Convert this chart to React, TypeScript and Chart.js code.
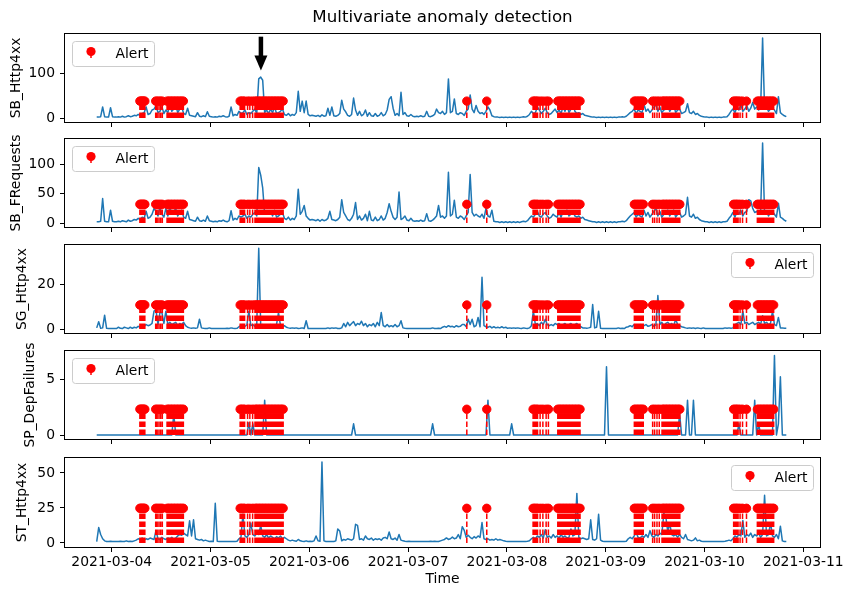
import React, { useEffect, useRef } from 'react';
import { Chart, registerables } from 'chart.js';

Chart.register(...registerables);

// ---------------- data ----------------
// x values are days relative to 2021-03-04 00:00
const SERIES_START_DAY = -0.152;
const SERIES_STEP_DAY = 0.02;

const X_TICKS = [0, 1, 2, 3, 4, 5, 6, 7];
const X_TICK_LABELS = ['2021-03-04', '2021-03-05', '2021-03-06', '2021-03-07', '2021-03-08', '2021-03-09', '2021-03-10', '2021-03-11'];

const SB_HTTP4XX = [
  2, 2, 3, 25, 3, 2, 2, 23, 3, 2,
  2, 3, 2, 4, 2, 3, 5, 3, 4, 6,
  5, 8, 6, 10, 12, 25, 8, 10, 18, 20,
  28, 12, 15, 25, 10, 18, 12, 30, 15, 20,
  28, 12, 20, 25, 10, 8, 22, 6, 5, 4,
  3, 12, 4, 3, 5, 3, 14, 4, 3, 2,
  3, 2, 4, 3, 5, 3, 2, 4, 25, 5,
  8, 6, 15, 10, 12, 18, 8, 12, 10, 15,
  20, 10, 88, 92, 85, 12, 18, 10, 20, 12,
  25, 10, 12, 15, 20, 8, 6, 10, 5, 8,
  6, 12, 60, 15, 38, 12, 38, 8, 5, 6,
  5, 4, 6, 3, 7, 4, 5, 22, 6, 25,
  5, 4, 6, 10, 40, 20, 14, 6, 4, 8,
  45, 18, 6, 15, 5, 8, 18, 4, 12, 5,
  4, 10, 4, 6, 12, 5, 8, 18, 42, 48,
  22, 6, 10, 5, 58, 8, 12, 5, 4, 8,
  4, 3, 4, 3, 5, 3, 4, 15, 4, 3,
  5, 8, 20, 12, 10, 15, 8, 12, 88, 12,
  15, 43, 10, 8, 12, 10, 6, 15, 20, 52,
  20, 12, 28, 15, 10, 12, 8, 15, 25, 18,
  5, 3, 2, 2, 1, 2, 1, 2, 1, 2,
  1, 2, 1, 2, 1, 2, 3, 2, 4, 8,
  15, 10, 12, 25, 18, 10, 15, 22, 12, 8,
  10, 15, 20, 12, 18, 10, 25, 15, 30, 12,
  20, 35, 15, 10, 12, 8, 10, 6, 5, 4,
  3, 2, 2, 1, 2, 1, 2, 1, 2, 1,
  2, 1, 2, 1, 2, 2, 3, 2, 4, 8,
  12, 15, 20, 10, 18, 15, 12, 30, 15, 20,
  12, 18, 25, 30, 15, 25, 12, 18, 20, 28,
  15, 22, 30, 12, 18, 20, 10, 12, 15, 32,
  12, 10, 15, 8, 10, 6, 4, 3, 2, 2,
  1, 2, 1, 2, 1, 2, 1, 2, 2, 3,
  8, 15, 20, 12, 25, 18, 30, 15, 20, 28,
  15, 22, 35, 20, 25, 18, 22, 180, 20, 25,
  15, 20, 22, 18, 10, 48, 12, 8, 5, 3,
];

const SB_FREQUESTS = [
  2, 2, 3, 42, 3, 2, 2, 22, 3, 2,
  2, 3, 2, 4, 3, 2, 5, 3, 4, 6,
  5, 8, 6, 10, 8, 20, 8, 10, 15, 25,
  20, 12, 28, 15, 10, 25, 12, 28, 15, 20,
  25, 12, 18, 22, 10, 8, 20, 6, 5, 4,
  3, 10, 4, 3, 5, 3, 12, 4, 3, 2,
  3, 2, 4, 3, 5, 3, 2, 4, 21, 5,
  8, 6, 12, 10, 12, 15, 8, 12, 10, 15,
  18, 12, 95, 82, 60, 15, 18, 15, 20, 12,
  22, 10, 12, 15, 18, 8, 6, 10, 5, 8,
  6, 12, 58, 15, 20, 30, 12, 8, 5, 6,
  5, 4, 6, 3, 6, 4, 5, 8, 20, 6,
  5, 4, 6, 10, 40, 18, 12, 6, 4, 8,
  15, 35, 6, 12, 5, 8, 15, 4, 20, 5,
  4, 10, 4, 6, 12, 5, 8, 18, 33, 20,
  10, 6, 10, 53, 6, 8, 12, 5, 4, 8,
  4, 3, 4, 3, 5, 3, 4, 16, 4, 3,
  5, 8, 12, 30, 10, 12, 8, 12, 87, 12,
  15, 39, 10, 8, 12, 10, 6, 12, 18, 83,
  18, 12, 15, 12, 10, 15, 8, 25, 12, 10,
  22, 3, 2, 2, 1, 2, 1, 2, 1, 2,
  1, 2, 1, 2, 1, 2, 3, 2, 4, 8,
  12, 10, 15, 20, 12, 10, 15, 18, 12, 8,
  10, 15, 12, 10, 18, 10, 20, 15, 22, 12,
  15, 20, 12, 10, 12, 8, 10, 6, 5, 4,
  3, 2, 2, 1, 2, 1, 2, 1, 2, 1,
  2, 1, 2, 1, 2, 2, 3, 2, 4, 8,
  12, 15, 18, 10, 15, 12, 10, 22, 12, 18,
  10, 15, 20, 25, 12, 20, 10, 15, 18, 22,
  12, 18, 22, 10, 15, 18, 10, 12, 15, 44,
  12, 10, 15, 8, 10, 6, 4, 3, 2, 2,
  1, 2, 1, 2, 1, 2, 1, 2, 2, 3,
  8, 12, 18, 10, 20, 15, 22, 12, 18, 20,
  40, 38, 25, 18, 20, 15, 18, 137, 15, 20,
  12, 18, 20, 15, 10, 34, 10, 8, 5, 3,
];

const SG_HTTP4XX = [
  0.5, 3.3, 0.3, 0.5, 6.2, 0.3, 0.2, 0.2, 0.2, 0.2,
  0.2, 0.8, 0.3, 0.2, 0.8, 0.5, 0.2, 0.8, 0.3, 0.8,
  0.5, 1.2, 0.8, 1.8, 1.2, 2.0, 1.5, 1.8, 2.5, 8.0,
  8.6, 2.0, 7.4, 7.4, 2.5, 8.0, 2.0, 3.0, 2.0, 2.5,
  3.0, 1.5, 2.5, 2.0, 3.0, 1.5, 0.8, 0.5, 0.3, 0.5,
  0.3, 0.5, 4.4, 0.5, 0.3, 0.2, 0.2, 0.5, 0.2, 0.2,
  0.2, 0.2, 0.2, 0.2, 0.2, 0.2, 0.3, 0.2, 0.5, 0.3,
  0.2, 0.3, 1.0, 1.5, 2.0, 1.2, 1.8, 8.0, 1.5, 2.0,
  1.2, 2.0, 36.3, 1.5, 2.0, 1.2, 1.8, 1.0, 2.0, 1.5,
  1.2, 2.0, 7.4, 1.5, 1.0, 1.5, 0.8, 0.5, 0.3, 0.5,
  0.3, 0.5, 0.2, 0.3, 0.5, 0.2, 3.7, 0.2, 0.2, 0.2,
  0.2, 0.2, 0.2, 0.2, 0.2, 0.2, 0.2, 0.5, 0.2, 0.5,
  0.3, 0.5, 0.2, 0.2, 0.5, 2.5, 1.0, 3.0, 1.5, 2.5,
  3.3, 1.5, 2.5, 2.0, 3.5, 1.5, 2.5, 1.0, 2.0, 1.5,
  2.5, 1.0, 3.0, 1.5, 7.4, 1.5, 1.0, 2.0, 1.0, 1.5,
  1.0, 2.0, 1.0, 1.5, 3.7, 0.5, 0.3, 0.2, 0.2, 0.2,
  0.2, 0.2, 0.2, 0.2, 0.2, 0.2, 0.2, 0.2, 0.2, 0.2,
  0.5, 0.2, 0.2, 0.3, 0.2, 0.8, 1.2, 0.8, 1.5, 1.0,
  1.2, 0.8, 1.5, 1.0, 1.2, 2.0, 2.0, 1.0, 4.4, 2.0,
  4.4, 1.0, 1.5, 5.2, 1.0, 23.3, 1.5, 1.0, 0.8, 1.2,
  0.5, 1.0, 0.5, 0.8, 0.5, 1.0, 0.5, 0.8, 0.3, 0.5,
  0.3, 0.5, 0.3, 0.5, 0.3, 0.2, 0.5, 0.3, 0.2, 0.5,
  1.5, 8.0, 2.0, 2.5, 1.5, 3.0, 2.0, 4.4, 2.0, 1.5,
  2.0, 1.5, 2.5, 2.0, 2.5, 1.5, 2.0, 2.5, 1.5, 2.0,
  2.5, 1.5, 2.0, 2.5, 1.5, 1.0, 0.5, 0.5, 0.3, 0.5,
  0.8, 11.0, 0.5, 0.8, 8.0, 0.3, 0.2, 0.2, 0.2, 0.2,
  0.2, 0.2, 0.2, 0.2, 0.5, 0.2, 0.3, 0.2, 0.8, 1.0,
  1.5, 1.0, 2.0, 1.2, 1.5, 2.0, 1.0, 1.5, 2.0, 1.2,
  1.5, 2.0, 1.2, 1.8, 15.1, 2.0, 3.0, 1.5, 2.5, 3.0,
  2.0, 2.5, 1.5, 4.4, 2.0, 1.5, 1.0, 0.8, 0.5, 0.3,
  0.5, 0.3, 0.5, 0.2, 0.5, 0.3, 0.2, 0.5, 0.2, 0.2,
  0.2, 0.2, 0.2, 0.2, 0.2, 0.2, 0.2, 0.2, 0.5, 0.3,
  0.5, 0.3, 0.5, 2.0, 2.5, 3.0, 2.0, 8.0, 2.5, 3.0,
  2.0, 2.5, 3.0, 2.0, 2.5, 3.0, 2.0, 6.0, 2.5, 3.0,
  2.0, 2.5, 8.0, 2.0, 1.5, 5.2, 0.5, 0.5, 0.3, 0.3,
];

const SP_DEPFAILURES = [
  0, 0, 0, 0, 0, 0, 0, 0, 0, 0,
  0, 0, 0, 0, 0, 0, 0, 0, 0, 0,
  0, 0, 0, 0, 0, 0, 0, 0, 0, 0,
  0, 0, 0, 0, 0, 0, 0, 0, 0, 1.86,
  0, 0, 0, 0, 0, 0, 0, 0, 0, 0,
  0, 0, 0, 0, 0, 0, 0, 0, 0, 0,
  0, 0, 0, 0, 0, 0, 0, 0, 0, 0,
  0, 0, 0, 0, 0, 0, 0, 1.1, 0, 1.0,
  0, 0, 0, 0, 0, 3.1, 0, 0, 0, 0,
  0, 0, 0, 0, 0, 0, 0, 0, 0, 0,
  0, 0, 0, 0, 0, 0, 0, 0, 0, 0,
  0, 0, 0, 0, 0, 0, 0, 0, 0, 0,
  0, 0, 0, 0, 0, 0, 0, 0, 0, 0,
  1.0, 0, 0, 0, 0, 0, 0, 0, 0, 0,
  0, 0, 0, 0, 0, 0, 0, 0, 0, 0,
  0, 0, 0, 0, 0, 0, 0, 0, 0, 0,
  0, 0, 0, 0, 0, 0, 0, 0, 0, 0,
  1.0, 0, 0, 0, 0, 0, 0, 0, 0, 0,
  0, 0, 0, 0, 0, 0, 0, 0, 0, 0,
  0, 0, 0, 0, 0, 0, 0, 0, 3.1, 0,
  0, 0, 0, 0, 0, 0, 0, 0, 0, 0,
  1.0, 0, 0, 0, 0, 0, 0, 0, 0, 0,
  0, 0, 0, 0, 0, 0, 0, 0, 0, 0,
  0, 0, 0, 0, 0, 0, 0, 0, 0, 0,
  0, 0, 0, 0, 0, 0, 0, 0, 0, 0,
  0, 0, 0, 0, 0, 0, 0, 0, 6.1, 0,
  0, 0, 0, 0, 0, 0, 0, 0, 0, 0,
  0, 0, 0, 0, 0, 0, 0, 0, 0, 0,
  0, 0, 0, 0, 0, 0, 0, 0, 0, 0,
  0, 0, 0, 0, 0, 1.9, 0, 0, 0, 3.1,
  0, 0, 3.1, 0, 0, 0, 0, 0, 0, 0,
  0, 0, 0, 0, 0, 0, 0, 0, 0, 0,
  0, 0, 0, 0, 0, 1.0, 0, 0, 0, 0,
  0, 0, 0, 3.1, 0, 1.0, 0, 0, 0, 0,
  0, 0, 0, 7.1, 0, 1.0, 5.2, 0, 0, 0,
];

const ST_HTTP4XX = [
  1, 11, 6, 3, 1.5, 1, 1, 1.2, 1, 1,
  1, 1, 1.2, 1, 1, 1.5, 1, 1.2, 1, 1.5,
  2, 3, 2.5, 3.5, 2, 3, 2.5, 3.5, 3, 2.5,
  8.8, 3, 2.5, 4, 3, 2.5, 3.5, 3, 4, 2.5,
  3.5, 5, 6, 5.5, 7, 6, 5, 15.8, 5, 16.5,
  3, 2.5, 2, 2.5, 1.5, 2, 1.5, 1, 1.2, 1,
  28.3, 1.2, 1, 1, 1, 1, 1, 1, 1, 1,
  1, 1.2, 3, 4, 20.5, 5, 4, 6, 14.2, 6,
  5, 7, 6, 12.5, 5, 4, 6, 3.5, 5, 4,
  3, 4.5, 3.5, 5, 3, 4, 3, 2, 1.5, 2,
  1.5, 1.2, 2.5, 1.5, 1.2, 1, 1.5, 1, 1.2, 1,
  1.5, 5, 1.5, 1.2, 57.8, 1.5, 1, 1, 1, 1,
  1, 1.5, 10, 8.5, 1.5, 2.5, 2, 3, 2.5, 2,
  3, 13.3, 12.5, 2.5, 3, 2, 5, 3, 2.5, 3.5,
  2, 3, 2.5, 3, 2, 3.5, 4, 3, 7.8, 3,
  2.5, 3.5, 2, 6, 2, 1.5, 1.2, 1, 1.2, 1,
  1, 1, 1, 1, 1, 1, 1, 1, 1, 1.2,
  1, 1.2, 1, 1, 1.5, 2, 2.5, 3.6, 2.5, 3,
  4.2, 3, 3.5, 6, 3, 11.6, 9, 4, 5.5, 4,
  3, 4.5, 3.5, 5, 4, 14.6, 3, 2.5, 3, 2,
  2.5, 2, 3, 2, 2.5, 2, 1.5, 1.2, 1, 1,
  1, 1, 1, 1, 1, 1, 1, 1, 1.2, 1.5,
  3, 4, 3, 5, 4, 6, 3.5, 9.5, 4, 5,
  3.5, 6, 4, 5, 3.5, 6, 4, 5, 3.5, 4,
  10, 5, 6, 35.4, 4, 3, 3.5, 3, 2.5, 3,
  16.5, 2.5, 2, 3, 20.5, 2, 1.2, 1, 1, 1,
  1, 1, 1, 1, 1, 1, 1, 1, 1.2, 3,
  4, 3, 5, 7.4, 4, 3.5, 5, 4, 6, 4,
  8.8, 5, 4, 6, 5, 7, 6, 21, 19, 8,
  14, 6, 5, 6, 4, 6, 4, 3, 6, 2.5,
  2, 1.5, 2, 3.6, 1.5, 2, 1.2, 1, 1, 1,
  1, 1, 1, 1, 1, 1, 1, 1, 1.2, 1.5,
  2, 1.5, 3, 5, 4, 6, 5, 16, 4, 6,
  5, 7, 4, 6, 5, 7, 4, 6, 34, 5,
  6, 14.5, 5, 4, 6, 3, 12, 1.5, 1, 1,
];

// alert timestamps (days relative to 2021-03-04 00:00)
const ALERT_DAYS = [
  0.285, 0.295, 0.305, 0.315, 0.325, 0.335,
  0.445, 0.46, 0.478, 0.495, 0.512, 0.56, 0.575, 0.59, 0.605, 0.62, 0.635, 0.65, 0.665, 0.68, 0.695, 0.71, 0.725,
  1.30, 1.315, 1.33, 1.345, 1.375, 1.398, 1.426, 1.45, 1.465, 1.48, 1.495, 1.51, 1.525, 1.54, 1.555, 1.57, 1.585,
  1.60, 1.615, 1.63, 1.645, 1.66, 1.675, 1.69, 1.705, 1.72, 1.735,
  3.594, 3.796,
  4.265, 4.28, 4.295, 4.31, 4.336, 4.364, 4.397, 4.42,
  4.515, 4.53, 4.545, 4.56, 4.575, 4.59, 4.605, 4.62, 4.635, 4.65, 4.665, 4.68, 4.695, 4.71, 4.725, 4.74,
  5.29, 5.305, 5.32, 5.335, 5.35, 5.365, 5.38,
  5.475, 5.495, 5.519, 5.542, 5.57, 5.585, 5.60, 5.615, 5.63, 5.645, 5.66, 5.675, 5.69, 5.705, 5.72, 5.735, 5.75,
  6.295, 6.31, 6.325, 6.34, 6.36, 6.385, 6.425,
  6.535, 6.55, 6.565, 6.58, 6.595, 6.61, 6.625, 6.64, 6.655, 6.67, 6.685, 6.70,
];

const PANEL_NAMES = ['SB_Http4xx', 'SB_FRequests', 'SG_Http4xx', 'SP_DepFailures', 'ST_Http4xx'];
const PANEL_VALUES = [SB_HTTP4XX, SB_FREQUESTS, SG_HTTP4XX, SP_DEPFAILURES, ST_HTTP4XX];
const ALERT_LEVELS = [38, 32, 10.8, 2.3, 24.75];
const Y_TICKS = [[0, 100], [0, 50, 100], [0, 20], [0, 5], [0, 25, 50]];
const ALERT_LABEL = 'Alert';
const TITLE = 'Multivariate anomaly detection';
const X_TITLE = 'Time';
// annotation arrow in the first panel (day, tip value, tail value)
const ARROW_DAY = 1.51;
const ARROW_TIP = 107;
const ARROW_TAIL = 183;

// ---------------- layout / style ----------------
const FONT = 'DejaVu Sans';
const FONT_SIZE = 13.9;
const W = 843;
const H = 589;
const PLOT_LEFT = 65;
const PLOT_RIGHT = 820;
const PANEL_TOP = [34, 139, 245, 351, 458];
const PANEL_BOTTOM = [122, 227, 333, 439, 547];
const Y_MIN = [-9, -6.85, -1.8, -0.357, -2.9];
const Y_MAX = [189, 143.85, 37.8, 7.5, 60.7];
const Y_TITLE_PAD = [8.3, 8.3, 13.8, 21.8, 13.8];
const LEGEND_SIDE = ['left', 'left', 'right', 'left', 'right'];
const X_MIN = -0.473;
const X_MAX = 7.169;
const CANVAS_PAD_TOP = 30;
const X_AXIS_H = 20;

function panelGeometry(p: number) {
  const isFirst = p === 0;
  const isLast = p === 4;
  const padTop = isFirst ? 0 : CANVAS_PAD_TOP;
  const xAxisH = isLast ? H - PANEL_BOTTOM[p] : X_AXIS_H;
  const top = isFirst ? 0 : PANEL_TOP[p] - CANVAS_PAD_TOP;
  const height = isFirst ? PANEL_BOTTOM[0] + xAxisH : PANEL_BOTTOM[p] - PANEL_TOP[p] + padTop + xAxisH;
  return { isFirst, isLast, padTop, xAxisH, top, height };
}

const framePlugin = {
  id: 'axesFrame',
  afterDatasetsDraw(chart: any) {
    const { ctx, chartArea: a } = chart;
    ctx.save();
    ctx.strokeStyle = '#000';
    ctx.lineWidth = 1;
    ctx.strokeRect(Math.round(a.left) - 0.5, Math.round(a.top) - 0.5, Math.round(a.right - a.left) + 1, Math.round(a.bottom - a.top) + 1);
    ctx.restore();
  },
};

const arrowPlugin = {
  id: 'arrowAnnotation',
  afterDatasetsDraw(chart: any) {
    const { ctx, scales } = chart;
    const x = scales.x.getPixelForValue(ARROW_DAY);
    const yTip = scales.y.getPixelForValue(ARROW_TIP);
    const yTail = scales.y.getPixelForValue(ARROW_TAIL);
    const headH = 15;
    const headW = 13;
    const shaftW = 4.5;
    ctx.save();
    ctx.fillStyle = '#000';
    ctx.fillRect(x - shaftW / 2, yTail, shaftW, yTip - headH - yTail + 1);
    ctx.beginPath();
    ctx.moveTo(x - headW / 2, yTip - headH);
    ctx.lineTo(x + headW / 2, yTip - headH);
    ctx.lineTo(x, yTip);
    ctx.closePath();
    ctx.fill();
    ctx.restore();
  },
};

function makeLegendPlugin(side: string) {
  return {
    id: 'alertLegend',
    afterDatasetsDraw(chart: any) {
      const { ctx, chartArea: a } = chart;
      const w = 82;
      const h = 25;
      const pad = 6.9;
      const x = Math.round(side === 'left' ? a.left + pad : a.right - pad - w) + 0.5;
      const y = Math.round(a.top + pad) + 0.5;
      const r = 3;
      ctx.save();
      ctx.beginPath();
      ctx.moveTo(x + r, y);
      ctx.lineTo(x + w - r, y);
      ctx.arcTo(x + w, y, x + w, y + r, r);
      ctx.lineTo(x + w, y + h - r);
      ctx.arcTo(x + w, y + h, x + w - r, y + h, r);
      ctx.lineTo(x + r, y + h);
      ctx.arcTo(x, y + h, x, y + h - r, r);
      ctx.lineTo(x, y + r);
      ctx.arcTo(x, y, x + r, y, r);
      ctx.closePath();
      ctx.fillStyle = 'rgba(255,255,255,0.8)';
      ctx.fill();
      ctx.strokeStyle = '#cccccc';
      ctx.lineWidth = 1;
      ctx.stroke();
      const mx = x + 18.5;
      const my = y + 10;
      ctx.strokeStyle = '#ff0000';
      ctx.lineWidth = 1.5;
      ctx.beginPath();
      ctx.moveTo(mx, my);
      ctx.lineTo(mx, y + 16.5);
      ctx.stroke();
      ctx.fillStyle = '#ff0000';
      ctx.beginPath();
      ctx.arc(mx, my, 4.6, 0, Math.PI * 2);
      ctx.fill();
      ctx.fillStyle = '#000';
      ctx.font = `${FONT_SIZE}px "${FONT}"`;
      ctx.textAlign = 'left';
      ctx.textBaseline = 'alphabetic';
      const label = chart.data.datasets[0].label;
      ctx.fillText(label, x + 43, y + 16.5);
      ctx.restore();
    },
  };
}

function buildChart(canvas: HTMLCanvasElement, p: number) {
  const g = panelGeometry(p);
  const values = PANEL_VALUES[p];
  const level = ALERT_LEVELS[p];
  const series = values.map((v, i) => ({ x: SERIES_START_DAY + i * SERIES_STEP_DAY, y: v }));
  const stems: any[] = [];
  ALERT_DAYS.forEach((t) => {
    stems.push({ x: t, y: 0 });
    stems.push({ x: t, y: level });
    stems.push({ x: t, y: null });
  });
  const markers = ALERT_DAYS.map((t) => ({ x: t, y: level }));
  const plugins: any[] = [framePlugin];
  if (g.isFirst) plugins.push(arrowPlugin);
  plugins.push(makeLegendPlugin(LEGEND_SIDE[p]));

  return new Chart(canvas, {
    type: 'line',
    data: {
      datasets: [
        {
          label: ALERT_LABEL,
          data: markers,
          showLine: false,
          pointRadius: 4.2,
          pointHoverRadius: 4.2,
          pointBackgroundColor: '#ff0000',
          pointBorderColor: '#ff0000',
          pointBorderWidth: 1,
        },
        {
          label: 'stems',
          data: stems,
          borderColor: '#ff0000',
          borderWidth: 1.5,
          borderDash: [5.55, 2.4],
          borderCapStyle: 'butt',
          pointRadius: 0,
          spanGaps: false,
          tension: 0,
        },
        {
          label: PANEL_NAMES[p],
          data: series,
          borderColor: '#1f77b4',
          borderWidth: 1.5,
          borderJoinStyle: 'round',
          pointRadius: 0,
          tension: 0,
          fill: false,
        },
      ],
    },
    options: {
      responsive: false,
      animation: false,
      events: [],
      layout: { padding: { left: 0, right: W - PLOT_RIGHT, top: g.padTop, bottom: 0 } },
      plugins: {
        legend: { display: false },
        tooltip: { enabled: false },
        title: {
          display: g.isFirst,
          text: TITLE,
          fullSize: false,
          color: '#000',
          font: { family: FONT, size: 16.67, weight: 'normal' },
          padding: { top: 8, bottom: 6 },
        },
      },
      scales: {
        x: {
          type: 'linear',
          min: X_MIN,
          max: X_MAX,
          border: { display: false },
          grid: { display: true, drawOnChartArea: false, drawTicks: true, tickLength: 5, color: '#000', lineWidth: 1 },
          ticks: {
            display: g.isLast,
            autoSkip: false,
            maxRotation: 0,
            minRotation: 0,
            padding: 2,
            color: '#000',
            font: { family: FONT, size: FONT_SIZE },
            callback: (value: any) => {
              const k = X_TICKS.indexOf(value);
              return k >= 0 ? X_TICK_LABELS[k] : '';
            },
          },
          title: {
            display: g.isLast,
            text: X_TITLE,
            color: '#000',
            font: { family: FONT, size: FONT_SIZE },
            padding: { top: 0, bottom: 1 },
          },
          afterBuildTicks: (scale: any) => {
            scale.ticks = X_TICKS.map((value) => ({ value }));
          },
          afterFit: (scale: any) => {
            scale.height = g.xAxisH;
            scale.paddingLeft = 0;
            scale.paddingRight = 0;
          },
        },
        y: {
          type: 'linear',
          min: Y_MIN[p],
          max: Y_MAX[p],
          border: { display: false },
          grid: { display: true, drawOnChartArea: false, drawTicks: true, tickLength: 5, color: '#000', lineWidth: 1 },
          ticks: {
            padding: 5,
            color: '#000',
            font: { family: FONT, size: FONT_SIZE },
            callback: (value: any) => String(value),
          },
          title: {
            display: true,
            text: PANEL_NAMES[p],
            color: '#000',
            font: { family: FONT, size: FONT_SIZE },
            padding: { top: Y_TITLE_PAD[p], bottom: 0 },
          },
          afterBuildTicks: (scale: any) => {
            scale.ticks = Y_TICKS[p].map((value) => ({ value }));
          },
          afterFit: (scale: any) => {
            scale.width = PLOT_LEFT;
            scale.paddingTop = 0;
            scale.paddingBottom = 0;
          },
        },
      },
    } as any,
    plugins,
  } as any);
}

export default function App() {
  const refs = useRef<(HTMLCanvasElement | null)[]>([]);

  useEffect(() => {
    Chart.defaults.font.family = FONT;
    Chart.defaults.font.size = FONT_SIZE;
    Chart.defaults.color = '#000';
    const charts = PANEL_NAMES.map((_, p) => buildChart(refs.current[p] as HTMLCanvasElement, p));
    return () => {
      charts.forEach((c) => c.destroy());
    };
  }, []);

  return (
    <div style={{ position: 'absolute', left: 0, top: 0, width: W, height: H, background: '#fff', overflow: 'hidden' }}>
      {PANEL_NAMES.map((name, p) => {
        const g = panelGeometry(p);
        return (
          <canvas
            key={name}
            ref={(el) => {
              refs.current[p] = el;
            }}
            width={W}
            height={g.height}
            style={{ position: 'absolute', left: 0, top: g.top, width: W, height: g.height }}
          />
        );
      })}
    </div>
  );
}
